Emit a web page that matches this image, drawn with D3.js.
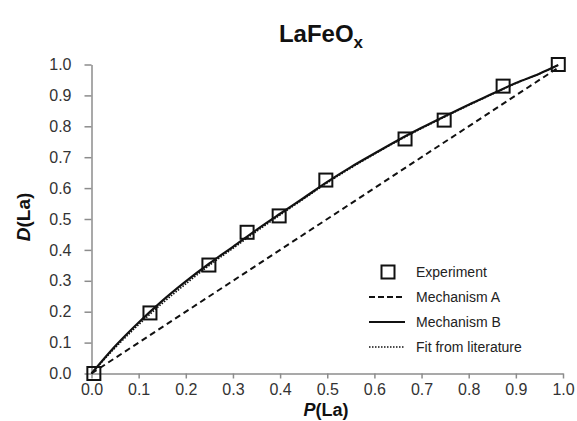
<!DOCTYPE html>
<html>
<head>
<meta charset="utf-8">
<script src="https://cdn.jsdelivr.net/npm/d3@7"></script>
<style>
	body { margin: 0; background: #fff; }
	svg { display: block; font-family: Arial, "Liberation Sans", sans-serif; }
	.axis path, .axis line { stroke: #8c8c8c; stroke-width: 1.5px; }
	.axis text { fill: #333; font-size: 16px; }
</style>
</head>
<body>
<div id="chart-area"></div>
<script>
// data
let expP = [0.005, 0.124, 0.249, 0.330, 0.398, 0.497, 0.665, 0.748, 0.873, 0.99];
let expD = [0.0, 0.196, 0.351, 0.457, 0.51, 0.626, 0.759, 0.82, 0.93, 1.0];

let curveP = [0, 0.05, 0.1, 0.15, 0.2, 0.25, 0.3, 0.35, 0.4, 0.45, 0.5, 0.55, 0.6, 0.65, 0.7, 0.75, 0.8, 0.85, 0.9, 0.95, 0.99];
let mechB = [0, 0.088, 0.165, 0.235, 0.298, 0.356, 0.41, 0.465, 0.517, 0.568, 0.62, 0.668, 0.712, 0.755, 0.795, 0.833, 0.87, 0.905, 0.94, 0.97, 0.998];
let litFit = [0, 0.083, 0.158, 0.227, 0.29, 0.35, 0.405, 0.46, 0.513, 0.565, 0.617, 0.665, 0.71, 0.753, 0.793, 0.831, 0.868, 0.904, 0.939, 0.97, 0.998];

let mechAP = [0, 0.99];
let mechAD = [0, 0.99];

let tickVals = [0, 0.1, 0.2, 0.3, 0.4, 0.5, 0.6, 0.7, 0.8, 0.9, 1.0];
let legendLabels = ["Experiment", "Mechanism A", "Mechanism B", "Fit from literature"];

let width = 577,
	height = 421;

let svg = d3.select("#chart-area")
	.append("svg")
	.attr("width", width)
	.attr("height", height);

let x = d3.scaleLinear().domain([0, 1]).range([91.5, 563]);
let y = d3.scaleLinear().domain([0, 1]).range([373.5, 64.5]);

// axes
let xAxis = d3.axisBottom(x).tickValues(tickVals).tickSize(5).tickSizeOuter(0).tickPadding(5).tickFormat(d3.format(".1f"));
let yAxis = d3.axisLeft(y).tickValues(tickVals).tickSize(7).tickSizeOuter(0).tickPadding(13).tickFormat(d3.format(".1f"));

svg.append("g")
	.attr("class", "axis x-axis")
	.attr("transform", "translate(0," + y(0) + ")")
	.call(xAxis);
svg.append("g")
	.attr("class", "axis y-axis")
	.attr("transform", "translate(" + x(0) + ",0)")
	.call(yAxis);

// lines
let zip = (ps, ds) => ps.map((p, i) => [p, ds[i]]);
let line = d3.line()
	.x(d => x(d[0]))
	.y(d => y(d[1]))
	.curve(d3.curveMonotoneX);

svg.append("path")
	.datum(zip(mechAP, mechAD))
	.attr("d", line)
	.attr("fill", "none")
	.attr("stroke", "#111")
	.attr("stroke-width", 2)
	.attr("stroke-dasharray", "6,4");

svg.append("path")
	.datum(zip(curveP, litFit))
	.attr("d", line)
	.attr("fill", "none")
	.attr("stroke", "#111")
	.attr("stroke-width", 1.6)
	.attr("stroke-dasharray", "1.5,1.5");

svg.append("path")
	.datum(zip(curveP, mechB))
	.attr("d", line)
	.attr("fill", "none")
	.attr("stroke", "#111")
	.attr("stroke-width", 2.2);

// experiment squares
let sq = 13;
svg.selectAll("rect.exp")
	.data(zip(expP, expD))
	.enter()
	.append("rect")
	.attr("class", "exp")
	.attr("x", d => x(d[0]) - sq / 2)
	.attr("y", d => y(d[1]) - sq / 2)
	.attr("width", sq)
	.attr("height", sq)
	.attr("fill", "none")
	.attr("stroke", "#111")
	.attr("stroke-width", 2);

// title
let title = svg.append("text")
	.attr("x", 321)
	.attr("y", 42)
	.attr("text-anchor", "middle")
	.attr("font-size", 24)
	.attr("font-weight", "bold")
	.attr("fill", "#111");
title.append("tspan").text("LaFeO");
title.append("tspan").text("x").attr("font-size", 17).attr("dy", 6);

// axis labels
let xl = svg.append("text")
	.attr("x", 326)
	.attr("y", 416)
	.attr("text-anchor", "middle")
	.attr("font-size", 18)
	.attr("font-weight", "bold")
	.attr("fill", "#111");
xl.append("tspan").text("P").attr("font-style", "italic");
xl.append("tspan").text("(La)");

let yl = svg.append("text")
	.attr("transform", "translate(30,217) rotate(-90)")
	.attr("text-anchor", "middle")
	.attr("font-size", 19)
	.attr("font-weight", "bold")
	.attr("fill", "#111");
yl.append("tspan").text("D").attr("font-style", "italic");
yl.append("tspan").text("(La)");

// legend
let legY = [272, 297, 322, 347];
let leg = svg.append("g");
leg.append("rect")
	.attr("x", 388 - 6.5).attr("y", legY[0] - 6.5)
	.attr("width", sq).attr("height", sq)
	.attr("fill", "none").attr("stroke", "#111").attr("stroke-width", 2);
let legDash = ["6,3", null, "1.5,1.5"];
let legWidth = [2, 2, 1.6];
legDash.forEach((dash, i) => {
	leg.append("line")
		.attr("x1", 369).attr("x2", 405)
		.attr("y1", legY[i + 1]).attr("y2", legY[i + 1])
		.attr("stroke", "#111")
		.attr("stroke-width", legWidth[i])
		.attr("stroke-dasharray", dash);
});
leg.selectAll("text")
	.data(legendLabels)
	.enter()
	.append("text")
	.attr("x", 416)
	.attr("y", (d, i) => legY[i] + 5)
	.attr("font-size", 14)
	.attr("fill", "#222")
	.text(d => d);
</script>
</body>
</html>
